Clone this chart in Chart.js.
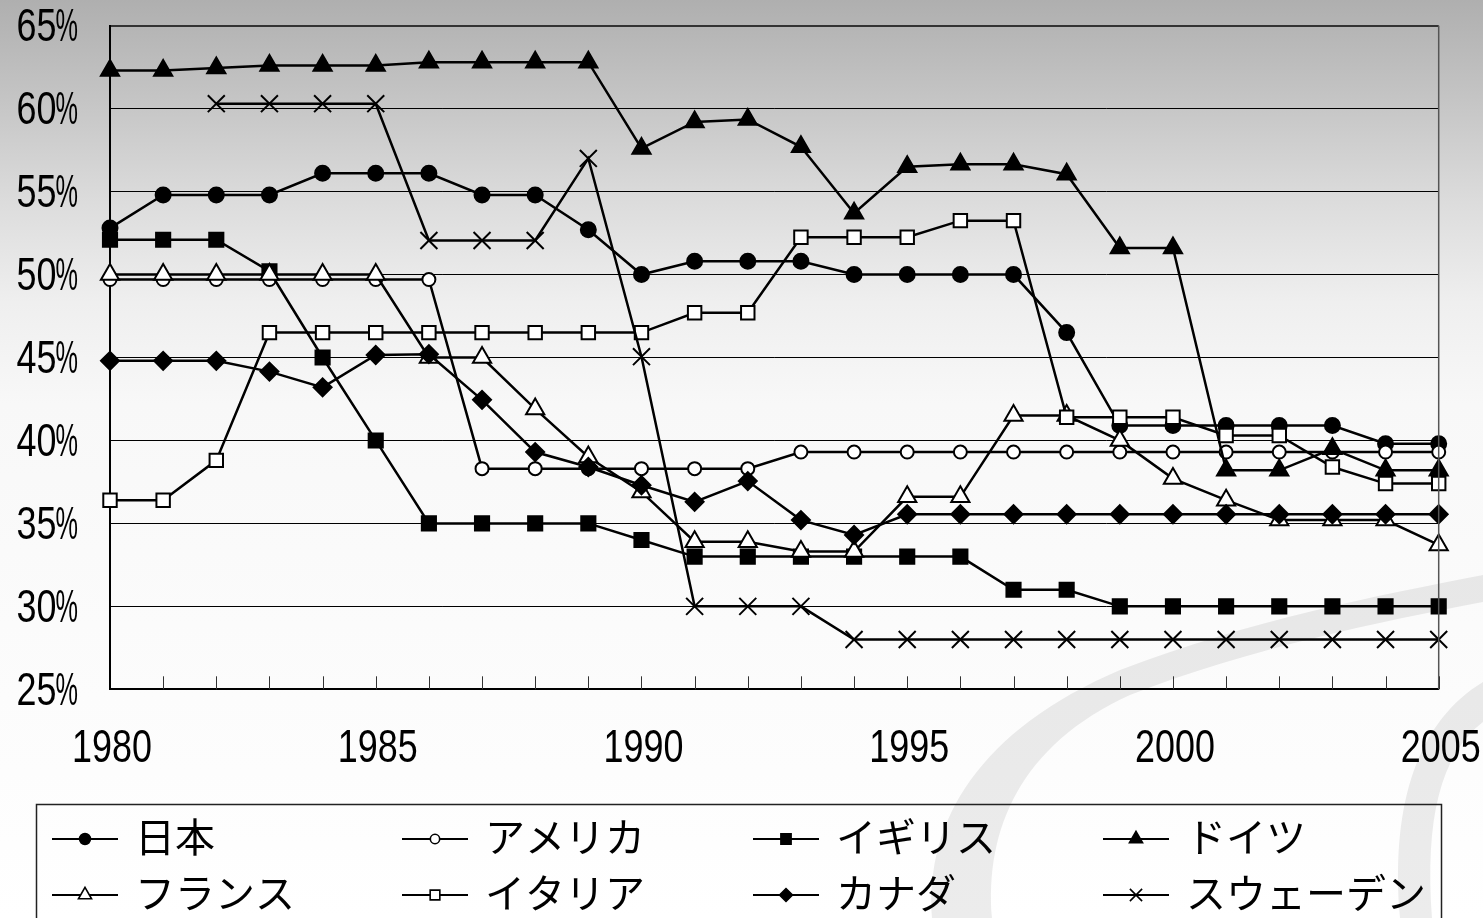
<!DOCTYPE html>
<html>
<head>
<meta charset="utf-8">
<script src="https://cdn.jsdelivr.net/npm/chart.js@4/dist/chart.umd.min.js"></script>
<style>
  html, body { margin: 0; padding: 0; background: #fff; overflow: hidden; }
  #wrap { width: 1483px; height: 918px; position: relative; }
</style>
</head>
<body>
<div id="wrap"><canvas id="c" width="1483" height="918"></canvas></div>
<script>
// Years on the horizontal axis
const years = [1980, 1981, 1982, 1983, 1984, 1985, 1986, 1987, 1988, 1989,
               1990, 1991, 1992, 1993, 1994, 1995, 1996, 1997, 1998, 1999,
               2000, 2001, 2002, 2003, 2004, 2005];

// Series names (legend order)
const seriesNames = ['日本', 'アメリカ', 'イギリス', 'ドイツ', 'フランス', 'イタリア', 'カナダ', 'スウェーデン'];

// Values in percent
const japan   = [52.8, 54.8, 54.8, 54.8, 56.1, 56.1, 56.1, 54.8, 54.8, 52.7,
                 50.0, 50.8, 50.8, 50.8, 50.0, 50.0, 50.0, 50.0, 46.5, 40.9,
                 40.9, 40.9, 40.9, 40.9, 39.8, 39.8];
const usa     = [49.7, 49.7, 49.7, 49.7, 49.7, 49.7, 49.7, 38.3, 38.3, 38.3,
                 38.3, 38.3, 38.3, 39.3, 39.3, 39.3, 39.3, 39.3, 39.3, 39.3,
                 39.3, 39.3, 39.3, 39.3, 39.3, 39.3];
const uk      = [52.1, 52.1, 52.1, 50.2, 45.0, 40.0, 35.0, 35.0, 35.0, 35.0,
                 34.0, 33.0, 33.0, 33.0, 33.0, 33.0, 33.0, 31.0, 31.0, 30.0,
                 30.0, 30.0, 30.0, 30.0, 30.0, 30.0];
const germany = [62.3, 62.3, 62.45, 62.6, 62.6, 62.6, 62.8, 62.8, 62.8, 62.8,
                 57.6, 59.2, 59.35, 57.7, 53.7, 56.5, 56.65, 56.65, 56.05, 51.6,
                 51.6, 38.2, 38.2, 39.5, 38.2, 38.2];
const france  = [50.0, 50.0, 50.0, 50.0, 50.0, 50.0, 45.0, 45.0, 41.9, 39.0,
                 36.9, 33.9, 33.9, 33.3, 33.3, 36.6, 36.6, 41.5, 41.5, 40.0,
                 37.7, 36.4, 35.2, 35.2, 35.2, 33.7];
const italy   = [36.4, 36.4, 38.8, 46.5, 46.5, 46.5, 46.5, 46.5, 46.5, 46.5,
                 46.5, 47.7, 47.7, 52.25, 52.25, 52.25, 53.25, 53.25, 41.4, 41.4,
                 41.4, 40.3, 40.3, 38.4, 37.4, 37.4];
const canada  = [44.8, 44.8, 44.8, 44.15, 43.2, 45.15, 45.2, 42.45, 39.3, 38.4,
                 37.3, 36.3, 37.55, 35.2, 34.3, 35.55, 35.55, 35.55, 35.55, 35.55,
                 35.55, 35.55, 35.55, 35.55, 35.55, 35.55];
const sweden  = [null, null, 60.3, 60.3, 60.3, 60.3, 52.05, 52.05, 52.05, 57.0,
                 45.05, 30.0, 30.0, 30.0, 28.0, 28.0, 28.0, 28.0, 28.0, 28.0,
                 28.0, 28.0, 28.0, 28.0, 28.0, 28.0];

// Axis tick values
const yTicks = [25, 30, 35, 40, 45, 50, 55, 60, 65];
const xLabelYears = [1980, 1985, 1990, 1995, 2000, 2005];

const NUM_FONT = "46px 'Liberation Sans', Arial, sans-serif";
const NUM_SQUEEZE = 0.78;          // narrow look for the axis numerals
const PCT_SQUEEZE = 0.55;          // the percent sign is narrower still
const JP_FONT = "40px 'Noto Sans CJK JP', 'Noto Sans', sans-serif";

// Marker look per series
const markerStyles = [
  { pointStyle: 'circle',   radius: 7.5, fill: '#000' },
  { pointStyle: 'circle',   radius: 6.5, fill: '#fff' },
  { pointStyle: 'rect',     radius: 10,  fill: '#000' },
  { pointStyle: 'triangle', radius: 10.5, fill: '#000' },
  { pointStyle: 'triangle', radius: 10.5, fill: '#fff' },
  { pointStyle: 'rect',     radius: 9.5, fill: '#fff' },
  { pointStyle: 'rectRot',  radius: 9,   fill: '#000' },
  { pointStyle: 'crossRot', radius: 12,  fill: '#000' }
];
const seriesValues = [japan, usa, uk, germany, france, italy, canada, sweden];

const datasets = seriesValues.map((vals, i) => ({
  label: seriesNames[i],
  data: vals,
  order: -i,
  borderColor: '#000',
  borderWidth: 2.5,
  backgroundColor: markerStyles[i].fill,
  pointStyle: markerStyles[i].pointStyle,
  pointRadius: markerStyles[i].radius,
  pointHoverRadius: markerStyles[i].radius,
  pointBackgroundColor: markerStyles[i].fill,
  pointBorderColor: '#000',
  pointBorderWidth: 2,
  tension: 0,
  fill: false,
  spanGaps: false
}));

// Page background: grey-to-white gradient with a soft swoosh at the lower right
const backdrop = {
  id: 'backdrop',
  beforeDraw(chart) {
    const ctx = chart.ctx;
    const W = chart.width, H = chart.height;
    ctx.save();
    const g = ctx.createLinearGradient(0, 0, 0, H);
    g.addColorStop(0, '#afafaf');
    g.addColorStop(0.11, '#c5c5c5');
    g.addColorStop(0.22, '#dcdcdc');
    g.addColorStop(0.33, '#efefef');
    g.addColorStop(0.44, '#f8f8f8');
    g.addColorStop(1, '#ffffff');
    ctx.fillStyle = g;
    ctx.fillRect(0, 0, W, H);

    ctx.fillStyle = 'rgba(0,0,0,0.075)';
    // long crescent sweeping up to the right edge
    ctx.beginPath();
    ctx.moveTo(932, 918);
    ctx.bezierCurveTo(925, 820, 980, 730, 1120, 670);
    ctx.bezierCurveTo(1250, 620, 1380, 595, 1483, 575);
    ctx.lineTo(1483, 602);
    ctx.bezierCurveTo(1380, 622, 1250, 648, 1130, 695);
    ctx.bezierCurveTo(1020, 745, 985, 830, 992, 918);
    ctx.closePath();
    ctx.fill();
    // short crescent at the right edge
    ctx.beginPath();
    ctx.moveTo(1483, 682);
    ctx.bezierCurveTo(1420, 720, 1390, 800, 1400, 918);
    ctx.lineTo(1432, 918);
    ctx.bezierCurveTo(1425, 820, 1440, 755, 1483, 722);
    ctx.closePath();
    ctx.fill();
    ctx.restore();
  }
};

// Frame lines, inward year ticks and axis numerals
const frame = {
  id: 'frame',
  afterDatasetsDraw(chart) {
    const ctx = chart.ctx;
    const a = chart.chartArea;
    const xs = chart.scales.x;
    const ys = chart.scales.y;
    ctx.save();
    ctx.strokeStyle = '#555';
    ctx.lineWidth = 1.5;
    ctx.beginPath();
    ctx.moveTo(a.right, a.top);
    ctx.lineTo(a.right, a.bottom);
    ctx.stroke();
    ctx.strokeStyle = '#333';
    ctx.lineWidth = 1;
    for (let i = 1; i < years.length; i++) {
      const px = Math.round(xs.getPixelForValue(i)) + 0.5;
      ctx.beginPath();
      ctx.moveTo(px, a.bottom);
      ctx.lineTo(px, a.bottom - 13);
      ctx.stroke();
    }

    ctx.fillStyle = '#000';
    ctx.font = NUM_FONT;
    ctx.textBaseline = 'middle';
    // y-axis percent labels: number and percent sign squeezed separately
    const pctW = ctx.measureText('%').width * PCT_SQUEEZE;
    yTicks.forEach(v => {
      const py = ys.getPixelForValue(v) + 3;
      ctx.save();
      ctx.translate(78, py);
      ctx.save();
      ctx.scale(PCT_SQUEEZE, 1);
      ctx.textAlign = 'right';
      ctx.fillText('%', 0, 0);
      ctx.restore();
      ctx.translate(-pctW + 1, 0);
      ctx.scale(NUM_SQUEEZE, 1);
      ctx.textAlign = 'right';
      ctx.fillText(String(v), 0, 0);
      ctx.restore();
    });
    // year labels every five years
    xLabelYears.forEach(y => {
      const px = xs.getPixelForValue(years.indexOf(y));
      ctx.save();
      ctx.translate(px + 2, 749);
      ctx.scale(NUM_SQUEEZE, 1);
      ctx.textAlign = 'center';
      ctx.fillText(String(y), 0, 0);
      ctx.restore();
    });
    ctx.restore();
  }
};

// Two-row legend box with line-and-marker samples
const legendBox = {
  id: 'legendBox',
  afterDraw(chart) {
    const ctx = chart.ctx;
    const colX = [52, 402, 753, 1103];
    const rowY = [839, 895];
    ctx.save();
    ctx.strokeStyle = '#222';
    ctx.lineWidth = 1.5;
    ctx.strokeRect(36.5, 804.5, 1405, 200);
    chart.data.datasets.forEach((ds, i) => {
      const cx = colX[i % 4];
      const cy = rowY[Math.floor(i / 4)];
      ctx.strokeStyle = '#000';
      ctx.lineWidth = 2;
      ctx.beginPath();
      ctx.moveTo(cx, cy);
      ctx.lineTo(cx + 66, cy);
      ctx.stroke();
      ctx.fillStyle = markerStyles[i].fill;
      ctx.strokeStyle = '#000';
      ctx.lineWidth = 1.6;
      Chart.helpers.drawPoint(ctx, {
        pointStyle: markerStyles[i].pointStyle,
        radius: markerStyles[i].radius * 0.72,
        borderWidth: 1.6,
        rotation: 0
      }, cx + 33, cy);
      ctx.fillStyle = '#000';
      ctx.font = JP_FONT;
      ctx.textBaseline = 'middle';
      ctx.textAlign = 'left';
      ctx.fillText(ds.label, cx + 83, cy - 2.5);
    });
    ctx.restore();
  }
};

new Chart(document.getElementById('c'), {
  type: 'line',
  data: { labels: years, datasets },
  plugins: [backdrop, frame, legendBox],
  options: {
    responsive: false,
    animation: false,
    events: [],
    layout: { padding: { top: 25.7, right: 44.3, bottom: 148.7, left: 0 } },
    plugins: { legend: { display: false }, tooltip: { enabled: false } },
    scales: {
      x: {
        type: 'category',
        offset: false,
        grid: { display: false, drawTicks: false, tickLength: 0 },
        border: { display: true, color: '#000', width: 2 },
        ticks: { display: false, autoSkip: false },
        afterFit(s) { s.height = 80; s.paddingLeft = 0; s.paddingRight = 0; }
      },
      y: {
        min: yTicks[0],
        max: yTicks[yTicks.length - 1],
        afterBuildTicks(s) { s.ticks = yTicks.map(v => ({ value: v })); },
        grid: {
          color: ctx => (ctx.tick && ctx.tick.value === 65 ? '#333' : '#000'),
          lineWidth: ctx => (ctx.tick && ctx.tick.value === 65 ? 2 : 1),
          drawTicks: false
        },
        border: { display: true, color: '#000', width: 2 },
        ticks: { display: false },
        afterFit(s) { s.width = 110; s.paddingTop = 0; s.paddingBottom = 0; }
      }
    }
  }
});
</script>
</body>
</html>
